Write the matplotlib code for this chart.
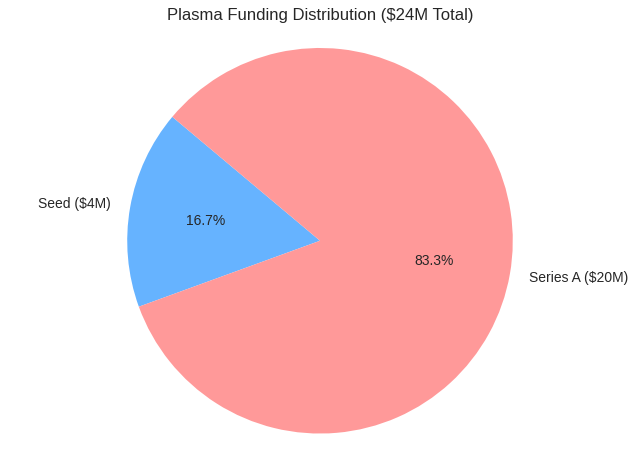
import matplotlib
matplotlib.use('Agg')
import matplotlib.pyplot as plt

labels = ['Seed ($4M)', 'Series A ($20M)']
amounts = [4, 20]
colors = ['#66b3ff', '#ff9999']

plt.rcParams['font.family'] = ['Liberation Sans', 'DejaVu Sans']

fig, ax = plt.subplots(figsize=(6.4, 4.63), dpi=100)
ax.pie(amounts, labels=labels, colors=colors, autopct='%1.1f%%', startangle=140,
       textprops={'color': '#262626', 'fontsize': 10})
ax.axis('equal')
ax.set_title('Plasma Funding Distribution ($24M Total)', fontsize=12, color='#262626')
fig.subplots_adjust(left=0.05, right=0.95, top=0.938, bottom=0.022)
plt.savefig('out.png')
